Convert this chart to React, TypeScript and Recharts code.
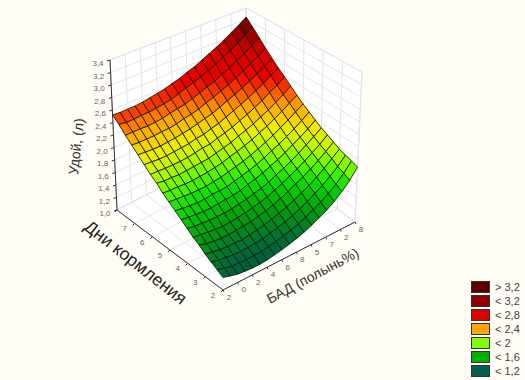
import { Polygon, Scatter, ScatterChart, XAxis, YAxis } from "recharts";

// ── Data ───────────────────────────────────────────────────

const zTicks = [1, 1.2, 1.4, 1.6, 1.8, 2, 2.2, 2.4, 2.6, 2.8, 3, 3.2, 3.4];
const zLabels = ["1,0", "1,2", "1,4", "1,6", "1,8", "2,0", "2,2", "2,4", "2,6", "2,8", "3,0", "3,2", "3,4"];
const dayLabels = ["2", "3", "4", "5", "6", "7", ""];
const badLabels = ["2", "0", "2", "4", "6", "8", "5", "7", "2", "8"];

const legendLabels = ["> 3,2", "< 3,2", "< 2,8", "< 2,4", "< 2", "< 1,6", "< 1,2"];
const legendColors = ["#5E0000", "#900000", "#E00000", "#FFA500", "#80FF00", "#00B000", "#006048"];

// one row per step along Дни, one value per step along БАД
const row00 = [1.18, 1.15, 1.12, 1.11, 1.1, 1.1, 1.11, 1.13, 1.15, 1.18, 1.21, 1.25, 1.3, 1.36, 1.42, 1.5, 1.6, 1.72, 1.88];
const row01 = [1.23, 1.2, 1.17, 1.17, 1.16, 1.17, 1.17, 1.19, 1.21, 1.24, 1.27, 1.31, 1.36, 1.42, 1.48, 1.56, 1.65, 1.77, 1.91];
const row02 = [1.28, 1.25, 1.24, 1.22, 1.22, 1.22, 1.23, 1.24, 1.27, 1.3, 1.33, 1.37, 1.42, 1.48, 1.55, 1.62, 1.71, 1.81, 1.94];
const row03 = [1.33, 1.31, 1.29, 1.28, 1.28, 1.27, 1.29, 1.31, 1.33, 1.36, 1.4, 1.44, 1.49, 1.55, 1.61, 1.69, 1.77, 1.87, 1.97];
const row04 = [1.4, 1.37, 1.35, 1.34, 1.34, 1.35, 1.36, 1.37, 1.4, 1.42, 1.46, 1.51, 1.56, 1.62, 1.68, 1.75, 1.83, 1.92, 2.02];
const row05 = [1.45, 1.44, 1.42, 1.41, 1.4, 1.41, 1.42, 1.44, 1.46, 1.49, 1.52, 1.57, 1.62, 1.68, 1.74, 1.81, 1.89, 1.97, 2.07];
const row06 = [1.52, 1.5, 1.49, 1.48, 1.48, 1.48, 1.49, 1.51, 1.53, 1.56, 1.59, 1.63, 1.69, 1.74, 1.8, 1.87, 1.95, 2.03, 2.12];
const row07 = [1.59, 1.57, 1.56, 1.55, 1.55, 1.56, 1.57, 1.58, 1.6, 1.64, 1.67, 1.71, 1.76, 1.81, 1.87, 1.94, 2.01, 2.09, 2.18];
const row08 = [1.66, 1.64, 1.63, 1.62, 1.62, 1.64, 1.64, 1.65, 1.68, 1.71, 1.74, 1.78, 1.83, 1.89, 1.94, 2.01, 2.08, 2.16, 2.25];
const row09 = [1.73, 1.72, 1.71, 1.7, 1.7, 1.7, 1.72, 1.73, 1.76, 1.79, 1.82, 1.86, 1.91, 1.96, 2.02, 2.09, 2.16, 2.24, 2.32];
const row10 = [1.8, 1.79, 1.79, 1.78, 1.78, 1.79, 1.8, 1.82, 1.84, 1.88, 1.91, 1.95, 1.99, 2.05, 2.1, 2.17, 2.24, 2.32, 2.4];
const row11 = [1.89, 1.87, 1.87, 1.86, 1.87, 1.88, 1.89, 1.9, 1.93, 1.96, 1.99, 2.04, 2.08, 2.13, 2.19, 2.25, 2.32, 2.4, 2.49];
const row12 = [1.96, 1.96, 1.95, 1.95, 1.95, 1.96, 1.98, 2.0, 2.01, 2.05, 2.08, 2.12, 2.17, 2.22, 2.28, 2.34, 2.42, 2.49, 2.58];
const row13 = [2.05, 2.04, 2.03, 2.03, 2.04, 2.05, 2.06, 2.09, 2.1, 2.14, 2.17, 2.22, 2.27, 2.32, 2.38, 2.44, 2.51, 2.59, 2.67];
const row14 = [2.14, 2.13, 2.12, 2.12, 2.13, 2.14, 2.16, 2.18, 2.21, 2.24, 2.27, 2.32, 2.37, 2.42, 2.48, 2.54, 2.61, 2.69, 2.77];
const row15 = [2.23, 2.22, 2.22, 2.22, 2.23, 2.23, 2.25, 2.28, 2.3, 2.33, 2.38, 2.42, 2.47, 2.52, 2.58, 2.65, 2.72, 2.8, 2.88];
const row16 = [2.32, 2.32, 2.32, 2.31, 2.32, 2.33, 2.36, 2.38, 2.4, 2.44, 2.48, 2.53, 2.57, 2.63, 2.69, 2.76, 2.83, 2.91, 3.0];
const row17 = [2.43, 2.41, 2.41, 2.42, 2.42, 2.43, 2.45, 2.47, 2.51, 2.55, 2.59, 2.63, 2.69, 2.74, 2.81, 2.87, 2.95, 3.03, 3.12];
const row18 = [2.52, 2.51, 2.51, 2.51, 2.52, 2.54, 2.56, 2.58, 2.62, 2.65, 2.7, 2.74, 2.8, 2.86, 2.92, 2.99, 3.07, 3.15, 3.24];

const surfaceRows = [
  row00, row01, row02, row03, row04, row05, row06, row07, row08, row09,
  row10, row11, row12, row13, row14, row15, row16, row17, row18,
];

// ── Colors ─────────────────────────────────────────────────

const BACKGROUND = "#FFFDF5";
const WALL_GRID = "#E3E3EC";
const AXIS_COLOR = "#333333";
const TICK_COLOR = "#666666";
const FONT = '"Liberation Sans", Arial, sans-serif';

const COLOR_STOPS: [number, number[]][] = [
  [1.0, [0, 80, 60]],
  [1.2, [0, 105, 60]],
  [1.45, [0, 165, 10]],
  [1.65, [10, 225, 0]],
  [1.8, [100, 250, 0]],
  [1.95, [190, 250, 0]],
  [2.1, [240, 235, 0]],
  [2.3, [255, 165, 0]],
  [2.45, [250, 70, 0]],
  [2.6, [235, 0, 0]],
  [2.85, [215, 0, 0]],
  [3.05, [150, 0, 0]],
  [3.25, [90, 0, 0]],
];

function surfaceColor(z: number) {
  for (let i = 1; i < COLOR_STOPS.length; i++) {
    const [z0, c0] = COLOR_STOPS[i - 1];
    const [z1, c1] = COLOR_STOPS[i];
    if (z <= z1) {
      const t = Math.max(0, (z - z0) / (z1 - z0));
      return `rgb(${c0.map((c, k) => Math.round(c + (c1[k] - c) * t)).join(",")})`;
    }
  }
  return "rgb(90,0,0)";
}

// ── Projection ─────────────────────────────────────────────

// a: БАД 0..1, b: Дни 0..1, z in axis units. Goes to the chart's own x/y units.
function project(a: number, b: number, z: number) {
  const fx = 223 + 132 * a - 106 * b;
  const fy = 290 - 68 * a - 80 * b;
  const t = (z - 1) / 2.4;
  const hx = (1 - a) * (1 - b) * 0 + a * (1 - b) * 7 + (1 - a) * b * -7 + a * b * -3;
  const hy = (1 - a) * (1 - b) * -166 + a * (1 - b) * -150 + (1 - a) * b * -150 + a * b * -134;
  return { x: fx + hx * t, y: fy + hy * t };
}

type Pt = { x: number; y: number };

function polygonDatum(corners: Pt[], fill: string, stroke: string) {
  const o = corners[0];
  return { x: o.x, y: o.y, offsets: corners.map((c) => ({ x: c.x - o.x, y: c.y - o.y })), fill, stroke };
}

function segmentDatum(p: Pt, q: Pt, stroke: string, width = 1) {
  return { x: p.x, y: p.y, dx: q.x - p.x, dy: q.y - p.y, stroke, width };
}

// ── Series data ────────────────────────────────────────────

const Z_MIN = zTicks[0];
const Z_MAX = zTicks[zTicks.length - 1];

const wallData = [
  polygonDatum([project(0, 1, Z_MIN), project(1, 1, Z_MIN), project(1, 1, Z_MAX), project(0, 1, Z_MAX)], "#FFFFFF", WALL_GRID),
  polygonDatum([project(1, 0, Z_MIN), project(1, 1, Z_MIN), project(1, 1, Z_MAX), project(1, 0, Z_MAX)], "#FFFFFF", WALL_GRID),
  polygonDatum([project(0, 0, Z_MIN), project(1, 0, Z_MIN), project(1, 1, Z_MIN), project(0, 1, Z_MIN)], "#FFFFFF", WALL_GRID),
];

const gridData = [
  ...zTicks.flatMap((z) => [
    segmentDatum(project(0, 1, z), project(1, 1, z), WALL_GRID),
    segmentDatum(project(1, 0, z), project(1, 1, z), WALL_GRID),
  ]),
  ...badLabels.flatMap((_, i) => {
    const a = i / (badLabels.length - 1);
    return [
      segmentDatum(project(a, 1, Z_MIN), project(a, 1, Z_MAX), WALL_GRID),
      segmentDatum(project(a, 0, Z_MIN), project(a, 1, Z_MIN), WALL_GRID),
    ];
  }),
  ...dayLabels.flatMap((_, i) => {
    const b = i / (dayLabels.length - 1);
    return [
      segmentDatum(project(1, b, Z_MIN), project(1, b, Z_MAX), WALL_GRID),
      segmentDatum(project(0, b, Z_MIN), project(1, b, Z_MIN), WALL_GRID),
    ];
  }),
];

const axisData = [
  segmentDatum(project(0, 1, Z_MIN), project(0, 1, Z_MAX), AXIS_COLOR),
  segmentDatum(project(0, 1, Z_MIN), project(0, 0, Z_MIN), AXIS_COLOR),
  segmentDatum(project(0, 0, Z_MIN), project(1, 0, Z_MIN), AXIS_COLOR),
  ...zTicks.map((z) => {
    const p = project(0, 1, z);
    return segmentDatum(p, { x: p.x - 3, y: p.y + 1 }, AXIS_COLOR);
  }),
  ...dayLabels.map((_, i) => {
    const p = project(0, i / (dayLabels.length - 1), Z_MIN);
    return segmentDatum(p, { x: p.x - 2, y: p.y + 2 }, AXIS_COLOR);
  }),
  ...badLabels.map((_, i) => {
    const p = project(i / (badLabels.length - 1), 0, Z_MIN);
    return segmentDatum(p, { x: p.x + 1, y: p.y + 2 }, AXIS_COLOR);
  }),
];

const steps = surfaceRows.length - 1;
const cellData: ReturnType<typeof polygonDatum>[] = [];
for (let j = steps - 1; j >= 0; j--) {
  for (let i = steps - 1; i >= 0; i--) {
    const z00 = surfaceRows[j][i];
    const z10 = surfaceRows[j][i + 1];
    const z01 = surfaceRows[j + 1][i];
    const z11 = surfaceRows[j + 1][i + 1];
    cellData.push(
      polygonDatum(
        [
          project(i / steps, j / steps, z00),
          project((i + 1) / steps, j / steps, z10),
          project((i + 1) / steps, (j + 1) / steps, z11),
          project(i / steps, (j + 1) / steps, z01),
        ],
        surfaceColor((z00 + z10 + z01 + z11) / 4),
        "rgba(20,25,0,0.85)"
      )
    );
  }
}

const textData = [
  ...zLabels.map((text, i) => {
    const p = project(0, 1, zTicks[i]);
    return { x: p.x - 12, y: p.y + 6, text, size: 8, angle: 0, color: TICK_COLOR };
  }),
  ...dayLabels.map((text, i) => {
    const p = project(0, i / (dayLabels.length - 1), Z_MIN);
    return { x: p.x - 10, y: p.y + 8, text, size: 8, angle: 0, color: TICK_COLOR };
  }),
  ...badLabels.map((text, i) => {
    const p = project(i / (badLabels.length - 1), 0, Z_MIN);
    return { x: p.x + 6, y: p.y + 10, text, size: 8, angle: 0, color: TICK_COLOR };
  }),
  { x: 81, y: 147, text: "Удой, (л)", size: 14, angle: -84, color: "#333333" },
  { x: 132, y: 267, text: "Дни кормления", size: 17.5, angle: 38, color: "#222222" },
  { x: 315, y: 280, text: "БАД (полынь%)", size: 14, angle: -28, color: "#333333" },
];

// ── Shapes ─────────────────────────────────────────────────

function PolygonShape({ cx, cy, payload }: any) {
  const points = payload.offsets.map((o: Pt) => ({ x: cx + o.x, y: cy + o.y }));
  return <Polygon points={points} fill={payload.fill} stroke={payload.stroke} strokeWidth={1} />;
}

function SegmentShape({ cx, cy, payload }: any) {
  return (
    <line x1={cx} y1={cy} x2={cx + payload.dx} y2={cy + payload.dy} stroke={payload.stroke} strokeWidth={payload.width} />
  );
}

function TextShape({ cx, cy, payload }: any) {
  return (
    <text
      x={cx}
      y={cy}
      textAnchor="middle"
      fontFamily={FONT}
      fontSize={payload.size}
      fill={payload.color}
      transform={payload.angle ? `rotate(${payload.angle} ${cx} ${cy})` : undefined}
    >
      {payload.text}
    </text>
  );
}

// ── Component ──────────────────────────────────────────────

export default function App() {
  return (
    <div style={{ position: "fixed", left: 0, top: 0, width: 525, height: 380, background: BACKGROUND, overflow: "hidden" }}>
      <ScatterChart width={525} height={380} margin={{ top: 0, right: 0, bottom: 0, left: 0 }}>
        <XAxis type="number" dataKey="x" domain={[0, 525]} hide />
        <YAxis type="number" dataKey="y" domain={[0, 380]} reversed hide />
        <Scatter data={wallData} shape={PolygonShape} isAnimationActive={false} />
        <Scatter data={gridData} shape={SegmentShape} isAnimationActive={false} />
        <Scatter data={axisData} shape={SegmentShape} isAnimationActive={false} />
        <Scatter data={cellData} shape={PolygonShape} isAnimationActive={false} />
        <Scatter data={textData} shape={TextShape} isAnimationActive={false} />
      </ScatterChart>

      {/* Legend */}
      <div style={{ position: "absolute", left: 471, top: 280, fontFamily: FONT, fontSize: 11, color: "#444" }}>
        {legendLabels.map((label, i) => (
          <div key={label} style={{ display: "flex", alignItems: "center", height: 14 }}>
            <span style={{ width: 17, height: 10, background: legendColors[i], border: "1px solid #333", boxSizing: "content-box" }} />
            <span style={{ marginLeft: 5 }}>{label}</span>
          </div>
        ))}
      </div>
    </div>
  );
}
